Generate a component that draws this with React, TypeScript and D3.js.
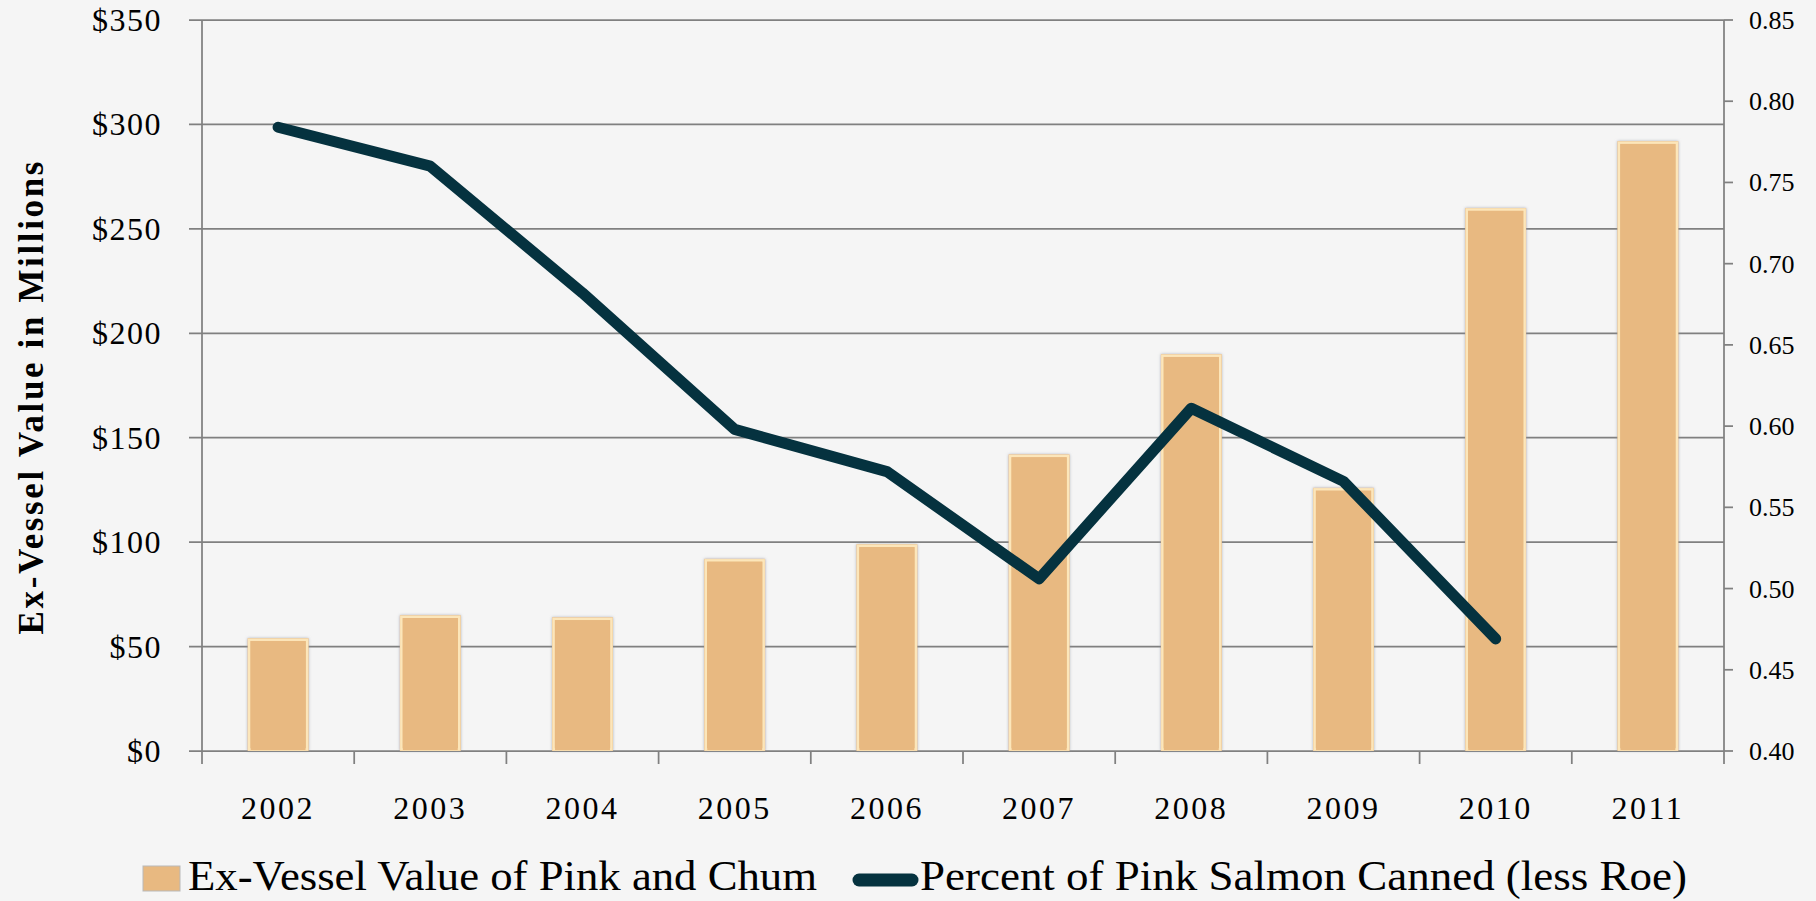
import * as d3 from "d3";

const YEARS = ["2002", "2003", "2004", "2005", "2006", "2007", "2008", "2009", "2010", "2011"];
// ex-vessel value of pink and chum, $ millions
const VALUES = [54, 65, 64, 92, 99, 142, 190, 126, 260, 292];
// share of pink salmon canned (less roe), no value for 2011
const PCT_CANNED = [0.784, 0.76, 0.682, 0.598, 0.572, 0.506, 0.611, 0.566, 0.469];
const LEFT_TICKS = [0, 50, 100, 150, 200, 250, 300, 350];
const RIGHT_TICKS = [0.4, 0.45, 0.5, 0.55, 0.6, 0.65, 0.7, 0.75, 0.8, 0.85];

const Y_TITLE = "Ex-Vessel Value in Millions";
const LEGEND_BAR = "Ex-Vessel Value of Pink and Chum";
const LEGEND_LINE = "Percent of Pink Salmon Canned (less Roe)";

export default function App() {
  const width = 1816;
  const height = 901;
  const plot = { left: 202, right: 1724, top: 20, bottom: 751 };

  const x = d3.scaleBand().domain(YEARS).range([plot.left, plot.right]).paddingInner(0).paddingOuter(0);
  const yLeft = d3.scaleLinear().domain([0, 350]).range([plot.bottom, plot.top]);
  const yRight = d3.scaleLinear().domain([0.4, 0.85]).range([plot.bottom, plot.top]);

  const bw = x.bandwidth();
  const barW = bw * 0.4;
  const grid = "#808080";
  const barFill = "#E8B981";
  const lineColor = "#05323F";
  const serif = "'Liberation Serif', 'DejaVu Serif', serif";

  const line = d3
    .line<number>()
    .x((_, i) => (x(YEARS[i]) as number) + bw / 2)
    .y((d) => yRight(d));

  return (
    <svg
      width={width}
      height={height}
      style={{ position: "absolute", left: 0, top: 0, display: "block" }}
      fontFamily={serif}
    >
      <defs>
        <filter id="barShadow" x="-20%" y="-5%" width="140%" height="110%">
          <feDropShadow dx="0" dy="0" stdDeviation="1.6" floodColor="#8a93a3" floodOpacity="0.7" />
        </filter>
      </defs>
      <rect width={width} height={height} fill="#f5f5f5" />

      {/* gridlines, left ticks */}
      {LEFT_TICKS.map((t) => (
        <line
          key={t}
          x1={plot.left - 13}
          x2={plot.right}
          y1={yLeft(t)}
          y2={yLeft(t)}
          stroke={grid}
          strokeWidth={1.75}
        />
      ))}

      {/* axes */}
      <line x1={plot.left} x2={plot.left} y1={plot.top} y2={plot.bottom + 13} stroke={grid} strokeWidth={1.75} />
      <line x1={plot.right} x2={plot.right} y1={plot.top} y2={plot.bottom + 13} stroke={grid} strokeWidth={1.75} />
      {YEARS.slice(1).map((yr) => (
        <line
          key={yr}
          x1={x(yr)}
          x2={x(yr)}
          y1={plot.bottom}
          y2={plot.bottom + 13}
          stroke={grid}
          strokeWidth={1.75}
        />
      ))}
      {RIGHT_TICKS.map((t) => (
        <line
          key={t}
          x1={plot.right}
          x2={plot.right + 9}
          y1={yRight(t)}
          y2={yRight(t)}
          stroke={grid}
          strokeWidth={1.75}
        />
      ))}

      {/* bars */}
      {VALUES.map((v, i) => {
        const bx = (x(YEARS[i]) as number) + (bw - barW) / 2;
        const by = yLeft(v);
        const bh = plot.bottom - by;
        return (
          <g key={YEARS[i]}>
            <rect x={bx} y={by} width={barW} height={bh} fill={barFill} filter="url(#barShadow)" />
            <rect
              x={bx + 1.5}
              y={by + 1.5}
              width={barW - 3}
              height={bh - 3}
              fill="none"
              stroke="#FCE6BA"
              strokeWidth={2.5}
            />
            <rect x={bx + 3} y={by + 3} width={barW - 6} height={bh - 4} fill={barFill} />
          </g>
        );
      })}

      {/* percent line */}
      <path
        d={line(PCT_CANNED) ?? ""}
        fill="none"
        stroke={lineColor}
        strokeWidth={11}
        strokeLinecap="round"
        strokeLinejoin="round"
      />

      {/* left tick labels */}
      {LEFT_TICKS.map((t) => (
        <text key={t} x={162} y={yLeft(t) + 11} textAnchor="end" fontSize={32} letterSpacing={1.5} fill="#000">
          {"$" + t}
        </text>
      ))}

      {/* right tick labels */}
      {RIGHT_TICKS.map((t) => (
        <text key={t} x={1749} y={yRight(t) + 9} textAnchor="start" fontSize={26} fill="#000">
          {t.toFixed(2)}
        </text>
      ))}

      {/* year labels */}
      {YEARS.map((yr) => (
        <text
          key={yr}
          x={(x(yr) as number) + bw / 2}
          y={819}
          textAnchor="middle"
          fontSize={32}
          letterSpacing={2.5}
          fill="#000"
        >
          {yr}
        </text>
      ))}

      {/* y title */}
      <text
        transform={`translate(43, 398) rotate(-90)`}
        textAnchor="middle"
        fontSize={35}
        fontWeight="bold"
        fill="#000"
        textLength={473}
        lengthAdjust="spacing"
      >
        {Y_TITLE}
      </text>

      {/* legend */}
      <g>
        <rect x={143} y={866} width={37} height={25} fill={barFill} stroke="#b9b9b9" strokeWidth={1} />
        <text x={188} y={890} fontSize={43} fill="#000" textLength={629} lengthAdjust="spacingAndGlyphs">
          {LEGEND_BAR}
        </text>
        <line x1={859} x2={912} y1={880} y2={880} stroke={lineColor} strokeWidth={13} strokeLinecap="round" />
        <text x={920} y={890} fontSize={43} fill="#000" textLength={767} lengthAdjust="spacingAndGlyphs">
          {LEGEND_LINE}
        </text>
      </g>
    </svg>
  );
}
